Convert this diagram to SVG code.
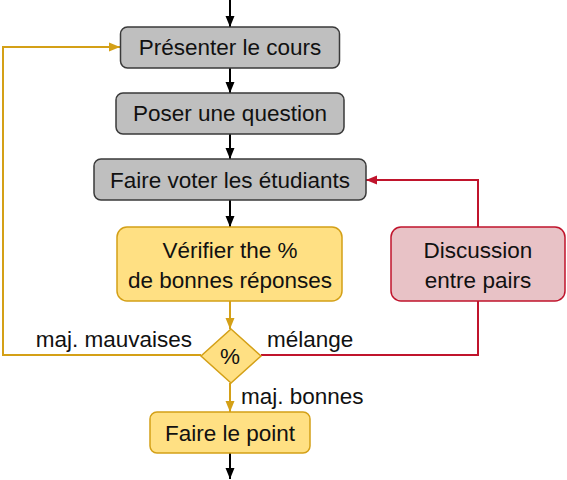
<svg xmlns="http://www.w3.org/2000/svg" width="567" height="480" viewBox="0 0 567 480">
<style>
text{font-family:"Liberation Sans",Arial,sans-serif;font-size:22.5px;fill:#111;text-anchor:middle}
.gray{fill:#bfbfbf;stroke:#3a3a3a;stroke-width:1.5}
.yel{fill:#ffe083;stroke:#d4a017;stroke-width:1.5}
.red{fill:#e8c2c6;stroke:#c0142c;stroke-width:1.5}
.cb{fill:none;stroke:#000;stroke-width:2}
.cy{fill:none;stroke:#d4a017;stroke-width:2}
.cr{fill:none;stroke:#c0142c;stroke-width:2}
</style>
<defs>
<marker id="ab" markerUnits="userSpaceOnUse" markerWidth="12" markerHeight="12" viewBox="0 0 12 12" refX="11" refY="6" orient="auto"><path d="M0,1.5 L11,6 L0,10.5 Z" fill="#000"/></marker>
<marker id="ay" markerUnits="userSpaceOnUse" markerWidth="12" markerHeight="12" viewBox="0 0 12 12" refX="11" refY="6" orient="auto"><path d="M0,1.5 L11,6 L0,10.5 Z" fill="#d4a017"/></marker>
<marker id="ar" markerUnits="userSpaceOnUse" markerWidth="12" markerHeight="12" viewBox="0 0 12 12" refX="11" refY="6" orient="auto"><path d="M0,1.5 L11,6 L0,10.5 Z" fill="#c0142c"/></marker>
</defs>
<g id="connectors">
<path class="cb" d="M230,0 V27" marker-end="url(#ab)"/>
<path class="cb" d="M230,68 V93" marker-end="url(#ab)"/>
<path class="cb" d="M230,134 V159" marker-end="url(#ab)"/>
<path class="cb" d="M230,200 V227" marker-end="url(#ab)"/>
<path class="cy" d="M230,301 V329" marker-end="url(#ay)"/>
<path class="cy" d="M230,383 V412" marker-end="url(#ay)"/>
<path class="cb" d="M230,453 V479" marker-end="url(#ab)"/>
<path class="cy" d="M201,355 H3 V47 H120" marker-end="url(#ay)"/>
<path class="cr" d="M261,355 H478 V301"/>
<path class="cr" d="M478,227 V180 H366" marker-end="url(#ar)"/>
</g>
<g id="n1"><rect class="gray" x="120.5" y="27" width="219" height="41" rx="7"/><text x="230" y="55">Présenter le cours</text></g>
<g id="n2"><rect class="gray" x="116" y="93" width="228" height="41" rx="7"/><text x="230" y="121">Poser une question</text></g>
<g id="n3"><rect class="gray" x="94" y="159" width="272" height="41" rx="7"/><text x="230" y="188">Faire voter les étudiants</text></g>
<g id="n4"><rect class="yel" x="117" y="227" width="225" height="74" rx="10"/><text x="230" y="258">Vérifier the %</text><text x="230" y="288">de bonnes réponses</text></g>
<g id="n5"><rect class="red" x="391" y="227" width="174" height="74" rx="10"/><text x="478" y="258">Discussion</text><text x="478" y="288">entre pairs</text></g>
<g id="n6"><path class="yel" d="M231,329 L261,356 L231,383 L201,356 Z"/><text x="230" y="364">%</text></g>
<g id="n7"><rect class="yel" x="150" y="412" width="160" height="41" rx="7"/><text x="230" y="441">Faire le point</text></g>
<g id="labels">
<text x="192" y="347" style="text-anchor:end">maj. mauvaises</text>
<text x="267" y="347" style="text-anchor:start">mélange</text>
<text x="241" y="404" style="text-anchor:start">maj. bonnes</text>
</g>
</svg>
